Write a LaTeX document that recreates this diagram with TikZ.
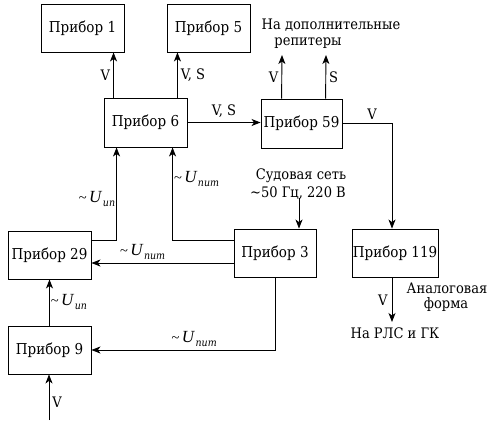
\documentclass[tikz,border=0pt]{standalone}
\usepackage{fontspec}
\setmainfont{DejaVu Serif Condensed}
\newfontfamily\tms{Liberation Serif}
\usetikzlibrary{arrows.meta}
\newcommand\Ulab[1]{{\tms\textasciitilde\,{\fontsize{17}{17}\selectfont\textit{U}}}\kern0.5pt\raisebox{-4pt}{\fontsize{10.5}{12}\selectfont\itshape #1}}
\begin{document}
\begin{tikzpicture}[x=1pt,y=-1pt,
  box/.style={draw,line width=0.9pt,inner sep=0pt,font=\fontsize{15}{17}\selectfont},
  arr/.style={line width=0.9pt,-{Stealth[length=9pt,width=7pt,inset=2.5pt]}},
  lab/.style={inner sep=0pt,font=\fontsize{14.5}{17}\selectfont},
  ]
\useasboundingbox (0,0) rectangle (496,426);
% boxes
\node[box,minimum width=83,minimum height=48] (p1) at (82.5,28) {Прибор 1};
\node[box,minimum width=83,minimum height=48] (p5) at (208.5,28) {Прибор 5};
\node[box,minimum width=83,minimum height=49] (p6) at (145.5,122.5) {Прибор 6};
\node[box,minimum width=81,minimum height=49] (p59) at (301.5,123.5) {Прибор 59};
\node[box,minimum width=83,minimum height=48] (p29) at (49.5,255) {Прибор 29};
\node[box,minimum width=82,minimum height=48] (p3) at (275,253) {Прибор 3};
\node[box,minimum width=86,minimum height=48] (p119) at (395,253) {Прибор 119};
\node[box,minimum width=83,minimum height=48] (p9) at (49.5,350) {Прибор 9};
% free ends
\coordinate (rep1) at (282,55);
\coordinate (rep2) at (326,55);
\coordinate (net) at (299,198);
\coordinate (rls) at (392,322);
\coordinate (vin) at (49,420);
% texts
\node[lab] (trep1) at (331,25) {На дополнительные};
\node[lab] (trep2) at (308,43) {репитеры};
\node[lab] (tnet1) at (301,176) {Судовая сеть};
\node[lab] (tnet2) at (298,193) {\textasciitilde50 Гц, 220 В};
\node[lab] (tan1) at (447,288) {Аналоговая};
\node[lab] (tan2) at (446,304) {форма};
\node[lab] (trls) at (395,333) {На РЛС и ГК};
% connectors
\draw[arr] ([xshift=10]p6.north west) -- ([xshift=10]p6.north west |- p1.south)
  node[lab,midway,left=3pt] {V};
\draw[arr] ([xshift=-10]p6.north east) -- ([xshift=-10]p6.north east |- p5.south)
  node[lab,midway,right=3pt] {V, S};
\draw[arr] (p6.east) -- (p6.east -| p59.west)
  node[lab,midway,above=5pt] {V, S};
\draw[arr] ([xshift=21]p59.north west) -- (rep1)
  node[lab,midway,left=3pt] {V};
\draw[arr] ([xshift=65]p59.north west) -- (rep2)
  node[lab,midway,right=3pt] {S};
\draw[arr] (p59.east) -| ([xshift=-3]p119.north)
  node[lab,pos=0.3,above=4pt] {V};
\draw[arr] (net) -- (net |- p3.north);
\draw[arr] ([xshift=-3]p119.south) -- (rls)
  node[lab,midway,left=4pt] {V};
\draw[arr] ([yshift=15]p29.east) -| ([xshift=13]p6.south west)
  node[lab,pos=0.72,left=1pt] {\Ulab{ип}};
\draw[arr] ([yshift=13]p3.west) -| ([xshift=69]p6.south west)
  node[lab,pos=0.83,right=1pt] {\Ulab{пит}};
\draw[arr] ([yshift=-10]p3.west) -- ([yshift=-10]p3.west -| p29.east)
  node[lab,pos=0.64,above=3pt] {\Ulab{пит}};
\draw[arr] (p3.south) |- (p9.east)
  node[lab,pos=0.72,above=3pt] {\Ulab{пит}};
\draw[arr] (p9.north) -- (p29.south)
  node[lab,midway,right=1pt] {\Ulab{ип}};
\draw[arr] (vin) -- (vin |- p9.south)
  node[lab,pos=0.4,right=3pt] {V};
\end{tikzpicture}
\end{document}
